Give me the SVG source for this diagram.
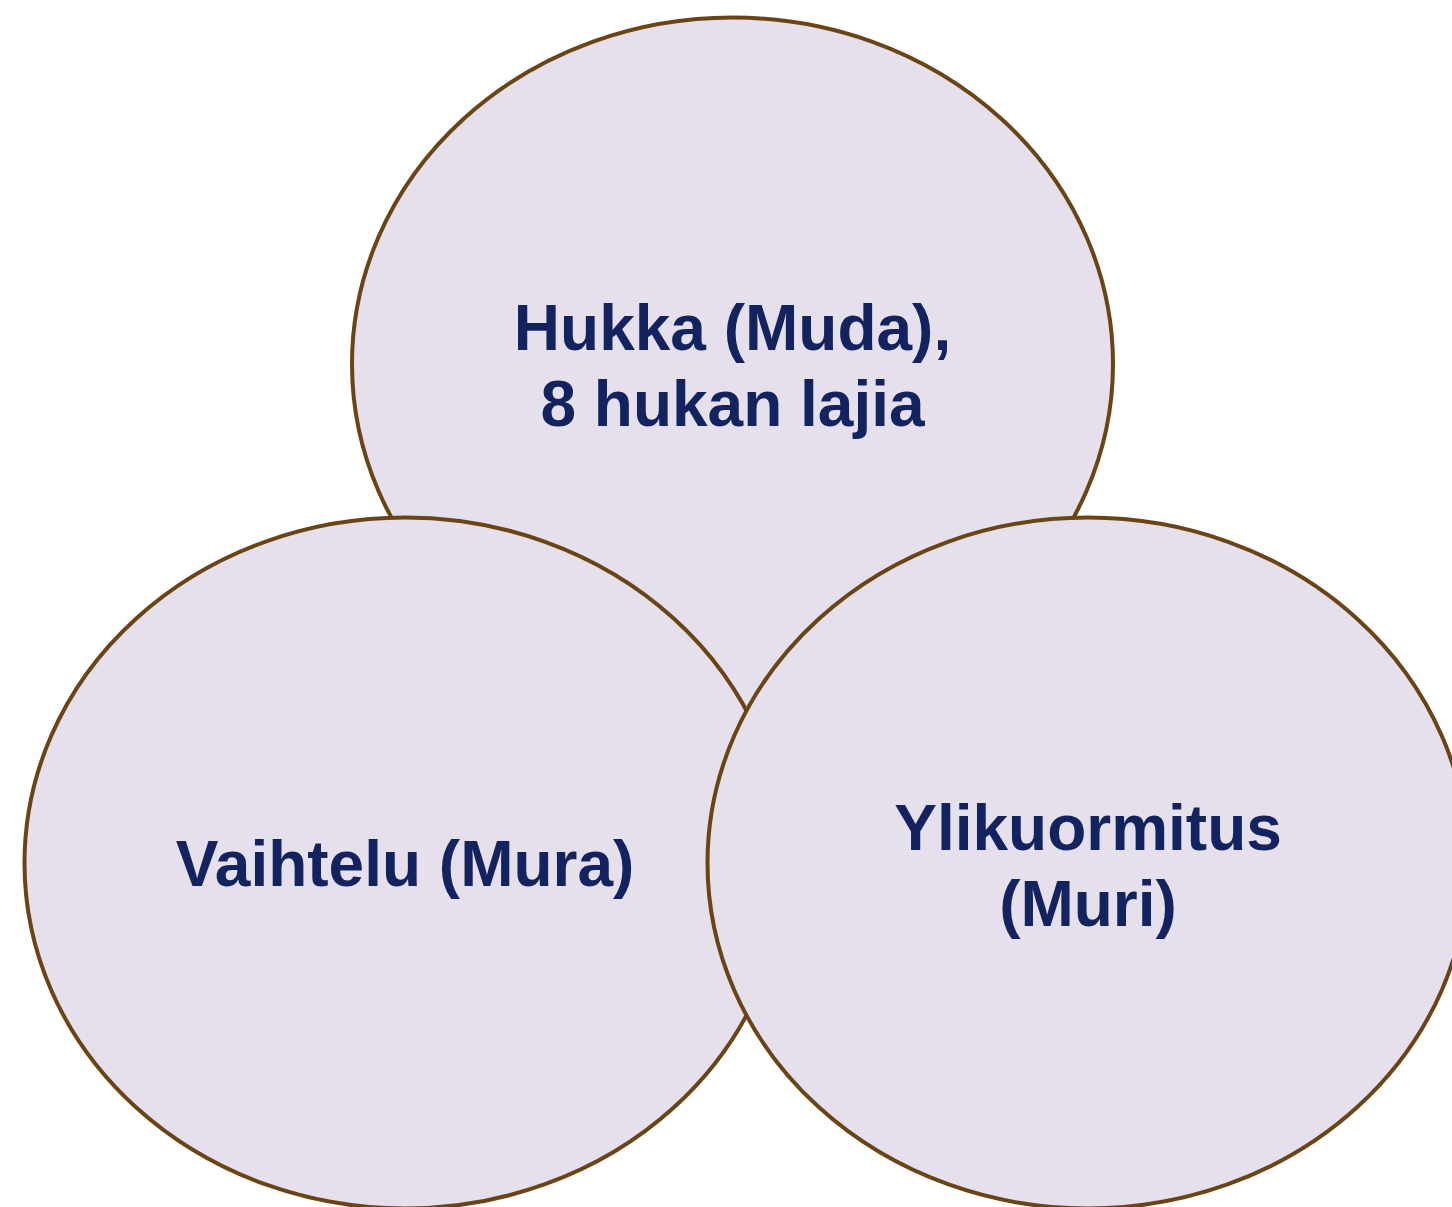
<svg xmlns="http://www.w3.org/2000/svg" width="1452" height="1207" viewBox="0 0 1452 1207">
<style>
.node ellipse { fill: #E5E0EC; stroke: #6B4416; stroke-width: 4; }
.node text { font-family: "Liberation Sans", Arial, sans-serif; font-weight: bold; font-size: 64px; fill: #13235F; text-anchor: middle; }
</style>
<rect width="1452" height="1207" fill="#FFFFFF"/>
<g id="connectors"></g>
<g id="node-muda" class="node">
<ellipse cx="732.5" cy="364" rx="380.5" ry="346.5"/>
<text x="732.5" y="350">Hukka (Muda),</text>
<text x="732.5" y="426">8 hukan lajia</text>
</g>
<g id="node-mura" class="node">
<ellipse cx="405" cy="863" rx="380.5" ry="345.5"/>
<text x="405" y="886">Vaihtelu (Mura)</text>
</g>
<g id="node-muri" class="node">
<ellipse cx="1088" cy="863" rx="380.5" ry="345.5"/>
<text x="1088" y="849.5">Ylikuormitus</text>
<text x="1088" y="925.5">(Muri)</text>
</g>
</svg>
